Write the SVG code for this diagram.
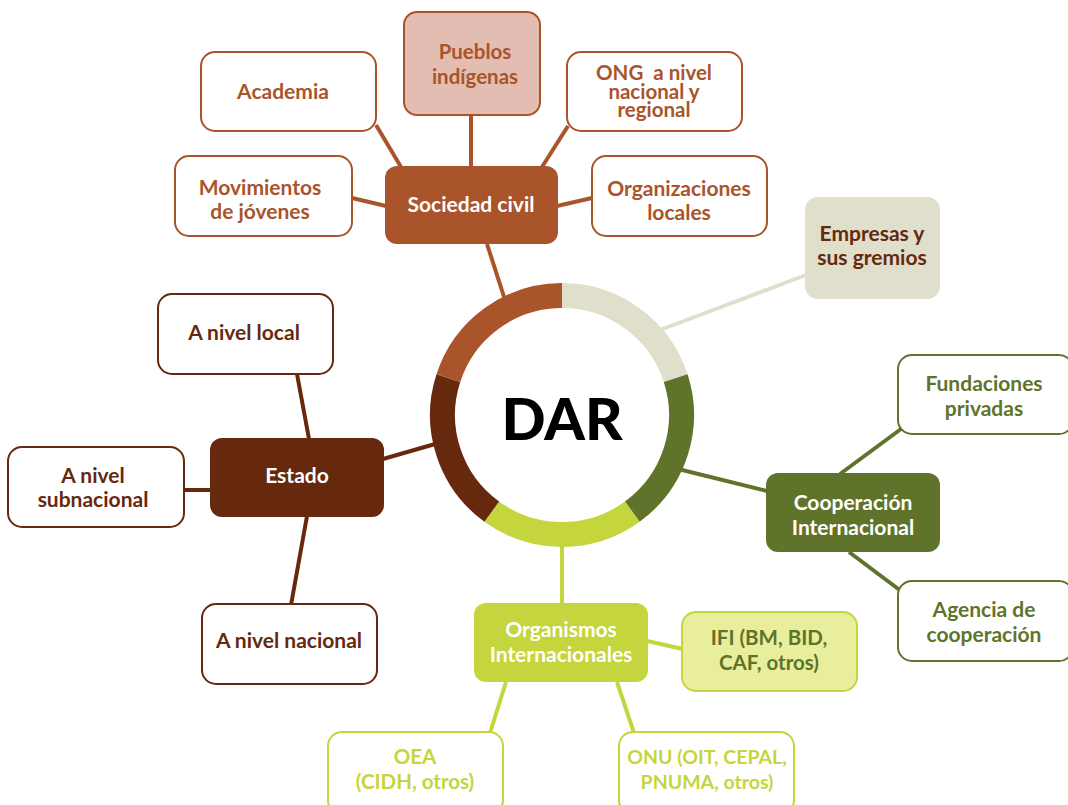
<svg xmlns="http://www.w3.org/2000/svg" width="1068" height="805" viewBox="0 0 1068 805">
<style>
text{font-family:Lato,"Open Sans","Liberation Sans",sans-serif;font-weight:700;font-size:21px;text-anchor:middle}
.cn line{stroke-width:4;stroke-linecap:butt}
.or{stroke:#a9542b}.br{stroke:#66290e}.gr{stroke:#dfdfcc}.ol{stroke:#5f742a}.li{stroke:#c5d53d}
.box{stroke-width:2}
.t-or{fill:#a9542b}.t-br{fill:#66290e}.t-ol{fill:#5f742a}.t-li{fill:#c5d53d}.t-w{fill:#ffffff}
.s20{font-size:20.5px}.s19{font-size:19.5px}
</style>
<rect width="1068" height="805" fill="#ffffff"/>
<g class="cn" id="connectors">
<line class="or" x1="487" y1="244" x2="506" y2="303"/>
<line class="or" x1="376" y1="125" x2="401" y2="167"/>
<line class="or" x1="471" y1="115" x2="471" y2="167"/>
<line class="or" x1="568" y1="126" x2="542" y2="167"/>
<line class="or" x1="352" y1="198" x2="386" y2="206"/>
<line class="or" x1="557" y1="206" x2="592" y2="198"/>
<line class="gr" x1="806" y1="275" x2="652" y2="333"/>
<line class="ol" x1="767" y1="491" x2="670" y2="467"/>
<line class="ol" x1="840" y1="474" x2="901" y2="429"/>
<line class="ol" x1="849" y1="552" x2="901" y2="591"/>
<line class="li" x1="562" y1="604" x2="562" y2="535"/>
<line class="li" x1="647" y1="641" x2="683" y2="649"/>
<line class="li" x1="506" y1="682" x2="490" y2="733"/>
<line class="li" x1="617" y1="682" x2="634" y2="733"/>
<line class="br" x1="383" y1="459" x2="442" y2="442"/>
<line class="br" x1="297" y1="374" x2="309" y2="439"/>
<line class="br" x1="184" y1="490" x2="211" y2="490"/>
<line class="br" x1="307" y1="516" x2="291" y2="605"/>
</g>
<g id="dar">
<circle cx="562" cy="415" r="107" fill="#ffffff"/>
<g fill="none" stroke-width="25">
<path d="M562,295.5 A119.5,119.5 0 0 1 675.65,378.07" stroke="#dfdfcc"/>
<path d="M675.65,378.07 A119.5,119.5 0 0 1 632.24,511.68" stroke="#5f742a"/>
<path d="M632.24,511.68 A119.5,119.5 0 0 1 491.76,511.68" stroke="#c5d53d"/>
<path d="M491.76,511.68 A119.5,119.5 0 0 1 448.35,378.07" stroke="#66290e"/>
<path d="M448.35,378.07 A119.5,119.5 0 0 1 562,295.5" stroke="#a9542b"/>
</g>
<text x="562" y="440" style="font-size:58px;font-weight:900" fill="#000000">DAR</text>
</g>
<g id="sociedad-civil">
<rect x="385" y="166" width="173" height="78" rx="12" fill="#a9542b"/>
<text x="471" y="212" class="t-w">Sociedad civil</text>
</g>
<g id="pueblos-indigenas">
<rect x="404" y="12" width="136" height="103" rx="13" fill="#e3bdb1" stroke="#a9542b" class="box"/>
<text x="475" y="59" class="t-or s20">Pueblos</text>
<text x="475" y="84" class="t-or s20">indígenas</text>
</g>
<g id="academia">
<rect x="201" y="52" width="175" height="79" rx="14" fill="#ffffff" stroke="#a9542b" class="box"/>
<text x="283" y="99" class="t-or">Academia</text>
</g>
<g id="ong">
<rect x="567" y="52" width="175" height="79" rx="14" fill="#ffffff" stroke="#a9542b" class="box"/>
<text x="654" y="80" class="t-or s20" xml:space="preserve">ONG  a nivel</text>
<text x="654" y="98.5" class="t-or s20">nacional y</text>
<text x="654" y="117" class="t-or s20">regional</text>
</g>
<g id="movimientos">
<rect x="175" y="156" width="177" height="80" rx="14" fill="#ffffff" stroke="#a9542b" class="box"/>
<text x="260" y="195" class="t-or">Movimientos</text>
<text x="260" y="219" class="t-or">de jóvenes</text>
</g>
<g id="organizaciones">
<rect x="592" y="156" width="175" height="80" rx="14" fill="#ffffff" stroke="#a9542b" class="box"/>
<text x="679" y="196" class="t-or">Organizaciones</text>
<text x="679" y="220" class="t-or">locales</text>
</g>
<g id="empresas">
<rect x="805" y="197" width="135" height="102" rx="13" fill="#dfdfcc"/>
<text x="872" y="241" class="t-br">Empresas y</text>
<text x="872" y="265" class="t-br">sus gremios</text>
</g>
<g id="estado">
<rect x="210" y="438" width="174" height="79" rx="12" fill="#66290e"/>
<text x="297" y="483" class="t-w">Estado</text>
</g>
<g id="a-nivel-local">
<rect x="158" y="294" width="175" height="80" rx="14" fill="#ffffff" stroke="#66290e" class="box"/>
<text x="244" y="340" class="t-br">A nivel local</text>
</g>
<g id="a-nivel-subnacional">
<rect x="8" y="447" width="176" height="80" rx="14" fill="#ffffff" stroke="#66290e" class="box"/>
<text x="93" y="483" class="t-br">A nivel</text>
<text x="93" y="507" class="t-br">subnacional</text>
</g>
<g id="a-nivel-nacional">
<rect x="202" y="604" width="175" height="80" rx="14" fill="#ffffff" stroke="#66290e" class="box"/>
<text x="289" y="648" class="t-br">A nivel nacional</text>
</g>
<g id="cooperacion-internacional">
<rect x="766" y="473" width="174" height="79" rx="12" fill="#5f742a"/>
<text x="853" y="510" class="t-w">Cooperación</text>
<text x="853" y="535" class="t-w">Internacional</text>
</g>
<g id="fundaciones">
<rect x="898" y="355" width="175" height="79" rx="14" fill="#ffffff" stroke="#5f742a" class="box"/>
<text x="984" y="391" class="t-ol">Fundaciones</text>
<text x="984" y="416" class="t-ol">privadas</text>
</g>
<g id="agencia">
<rect x="898" y="581" width="175" height="80" rx="14" fill="#ffffff" stroke="#5f742a" class="box"/>
<text x="984" y="617" class="t-ol">Agencia de</text>
<text x="984" y="642" class="t-ol">cooperación</text>
</g>
<g id="organismos-internacionales">
<rect x="474" y="603" width="174" height="79" rx="12" fill="#c5d53d"/>
<text x="561" y="637" class="t-w">Organismos</text>
<text x="561" y="662" class="t-w">Internacionales</text>
</g>
<g id="ifi">
<rect x="682" y="612" width="175" height="79" rx="14" fill="#e8ee9c" stroke="#c5d53d" class="box"/>
<text x="769" y="645" class="t-ol s20">IFI (BM, BID,</text>
<text x="769" y="670" class="t-ol s20">CAF, otros)</text>
</g>
<g id="oea">
<rect x="328" y="732" width="175" height="82" rx="14" fill="#ffffff" stroke="#c5d53d" class="box"/>
<text x="415" y="764" class="t-li s20">OEA</text>
<text x="415" y="789" class="t-li s20">(CIDH, otros)</text>
</g>
<g id="onu">
<rect x="619" y="732" width="175" height="82" rx="14" fill="#ffffff" stroke="#c5d53d" class="box"/>
<text x="707" y="764" class="t-li s19">ONU (OIT, CEPAL,</text>
<text x="707" y="789" class="t-li s19">PNUMA, otros)</text>
</g>
</svg>
